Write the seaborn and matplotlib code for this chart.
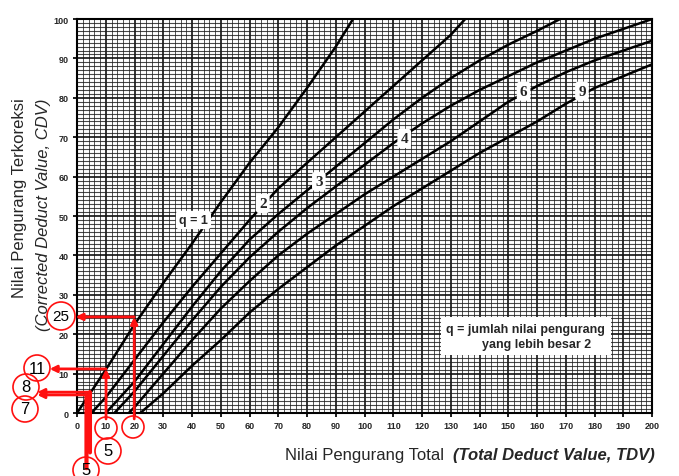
import matplotlib
matplotlib.use("Agg")
import numpy as np
import pandas as pd
import seaborn as sns
import matplotlib.pyplot as plt
from matplotlib.patches import Circle
from matplotlib.ticker import MultipleLocator

# Corrected deduct value curves
tdv_q1 = [0, 10, 20, 30, 40, 50, 60, 70, 80, 90, 96]
cdv_q1 = [0, 11, 22.5, 33, 43, 53.5, 63.5, 72.5, 82.5, 93, 100]

tdv_q2 = [5, 10, 20, 30, 40, 50, 60, 70, 80, 90, 100, 110, 120, 130, 135]
cdv_q2 = [0, 4, 13.5, 23, 32, 40.5, 49, 57, 63.5, 70, 76.5, 83, 89.5, 96, 100]

tdv_q3 = [10, 20, 30, 40, 50, 60, 70, 80, 90, 100, 110, 120, 130, 140, 150, 160, 168]
cdv_q3 = [0, 8, 17.5, 27, 36, 44, 50.5, 56.5, 62.5, 68.5, 74.5, 80, 85, 89.5, 93.5, 97, 100]

tdv_q4 = [13, 20, 30, 40, 50, 60, 70, 80, 90, 100, 110, 120, 130, 140, 150, 160, 170, 180, 190, 200]
cdv_q4 = [0, 5.5, 14.5, 23.5, 32, 39.5, 46, 52, 57.5, 63, 68.5, 73.5, 78, 82, 85.5, 89, 92, 95, 97.5, 100]

tdv_q6 = [18, 20, 30, 40, 50, 60, 70, 80, 90, 100, 110, 120, 130, 140, 150, 160, 170, 180, 190, 200]
cdv_q6 = [0, 1.5, 10, 18.5, 26.5, 33.5, 40, 45.5, 50.5, 55.5, 60, 64.5, 69, 74, 79, 83, 86.5, 89.5, 92, 94.5]

tdv_q9 = [22, 30, 40, 50, 60, 70, 80, 90, 100, 110, 120, 130, 140, 150, 160, 170, 180, 190, 200]
cdv_q9 = [0, 5, 12, 18.5, 25.5, 31.5, 37, 42.5, 47.5, 52.5, 57, 61.5, 66, 70, 74, 78.5, 82.5, 85.5, 88.5]

q_values = [1, 2, 3, 4, 6, 9]
curve_tdv = [tdv_q1, tdv_q2, tdv_q3, tdv_q4, tdv_q6, tdv_q9]
curve_cdv = [cdv_q1, cdv_q2, cdv_q3, cdv_q4, cdv_q6, cdv_q9]

# curve labels as printed on the chart
label_text = ["q = 1", "2", "3", "4", "6", "9"]
label_tdv = [40.5, 64.6, 84.1, 113.8, 155.3, 175.6]
label_cdv = [49, 53.2, 58.8, 69.7, 81.7, 81.7]

frames = []
for q, x, y in zip(q_values, curve_tdv, curve_cdv):
    frames.append(pd.DataFrame({"TDV": x, "CDV": y, "q": q}))
df = pd.concat(frames, ignore_index=True)

sns.set_theme(style="white")
plt.rcParams['font.family'] = ['Liberation Sans', 'DejaVu Sans']

fig = plt.figure(figsize=(6.79, 4.77), dpi=100)
ax = fig.add_axes([0.1134, 0.132, 0.847, 0.826])

# dense graph-paper grid like the scanned chart
ax.set_xlim(0, 200)
ax.set_ylim(0, 100)
ax.xaxis.set_major_locator(MultipleLocator(10))
ax.yaxis.set_major_locator(MultipleLocator(10))
ax.xaxis.set_minor_locator(MultipleLocator(2))
ax.yaxis.set_minor_locator(MultipleLocator(1))
ax.grid(which="major", color="#111111", lw=1.2)
ax.grid(which="minor", axis="y", color="#1a1a1a", lw=0.8, alpha=0.8)
ax.grid(which="minor", axis="x", color="#1a1a1a", lw=0.7, alpha=0.75)
ax.set_axisbelow(True)

sns.lineplot(data=df, x="TDV", y="CDV", hue="q", units="q", estimator=None,
             sort=False, palette={q: "black" for q in q_values}, lw=1.8,
             legend=False, ax=ax)

for s, x, y in zip(label_text, label_tdv, label_cdv):
    if s.startswith("q"):
        ax.text(x, y, s, ha="center", va="center", fontsize=9, fontweight="bold",
                bbox=dict(boxstyle="round,pad=0.25", fc="white", ec="none"), zorder=5)
    else:
        ax.text(x, y, s, ha="center", va="center", fontsize=11, fontweight="bold",
                family="Liberation Serif",
                bbox=dict(boxstyle="round,pad=0.2", fc="white", ec="none"), zorder=5)

ax.text(156, 19.5, "q = jumlah nilai pengurang\n      yang lebih besar 2", ha="center",
        va="center", fontsize=9, fontweight="bold", linespacing=1.3,
        bbox=dict(boxstyle="square,pad=0.45", fc="white", ec="none"), zorder=5)

for sp in ax.spines.values():
    sp.set_color("black")
    sp.set_linewidth(1.5)
ax.tick_params(which="major", length=3, color="black", labelsize=6.5, pad=3,
               bottom=True, left=True)
ax.tick_params(which="minor", length=0)
for lab in ax.get_xticklabels() + ax.get_yticklabels():
    lab.set_fontweight("bold")
ax.set_xlabel("")
ax.set_ylabel("")

# axis titles
xt = fig.text(0.965, 0.046, "(Total Deduct Value, TDV)", ha="right", va="center",
              fontsize=12, fontweight="bold", fontstyle="italic")
ax.annotate("Nilai Pengurang Total  ", xy=(0, 0.5), xycoords=xt, ha="right",
            va="center", fontsize=12, annotation_clip=False)
fig.text(0.029, 0.585, "Nilai Pengurang Terkoreksi", rotation=90, ha="center",
         va="center", fontsize=12)
fig.text(0.064, 0.55, "(Corrected Deduct Value, CDV)", rotation=90, ha="center",
         va="center", fontsize=12, fontstyle="italic")

# red reading arrows
red = "#ff1010"
arrow = dict(arrowstyle="-|>", color=red, lw=2, mutation_scale=10,
             shrinkA=0, shrinkB=0)
thick = dict(arrowstyle="-", color=red, lw=3, shrinkA=0, shrinkB=0)
kw = dict(annotation_clip=False, xycoords="data", textcoords="data")

ax.annotate("", xy=(19.9, 24.4), xytext=(19.9, -1.5), arrowprops=arrow, **kw)
ax.annotate("", xy=(-0.5, 24.4), xytext=(19.9, 24.4), arrowprops=arrow, **kw)
ax.annotate("", xy=(10.1, 11.2), xytext=(10.1, -1.5), arrowprops=arrow, **kw)
ax.annotate("", xy=(-9.5, 11.2), xytext=(10.1, 11.2), arrowprops=arrow, **kw)
ax.annotate("", xy=(4.5, 5.3), xytext=(4.5, -10.0), arrowprops=thick, **kw)
ax.annotate("", xy=(3.3, 4.6), xytext=(3.3, -14.0), arrowprops=thick, **kw)
ax.annotate("", xy=(-13.8, 5.3), xytext=(4.5, 5.3), arrowprops=arrow, **kw)
ax.annotate("", xy=(-13.8, 4.6), xytext=(3.3, 4.6), arrowprops=arrow, **kw)


def red_ring(px, py, r):
    # circle given in picture pixels (from top-left)
    c = Circle((px / 100, (477 - py) / 100), r / 100, transform=fig.dpi_scale_trans,
               fill=False, ec=red, lw=1.2, clip_on=False)
    fig.patches.append(c)


ring_pos = [(61, 317, 14), (37, 369, 13), (26, 388, 13), (25, 410, 13),
            (106, 429, 11), (133, 428, 11), (108, 452, 13), (86, 471, 13)]
for px, py, r in ring_pos:
    red_ring(px, py, r)

ring_text = ["25", "11", "8", "7", "5", "5"]
text_pos = [(61, 317), (37, 369), (26, 388), (25, 410), (108, 452), (86, 471)]
for s, (px, py) in zip(ring_text, text_pos):
    fig.text(px / 679, 1 - py / 477, s, ha="center", va="center",
             fontsize=11 if s == "25" else 12, color="black")

fig.savefig("out.png", dpi=100)
